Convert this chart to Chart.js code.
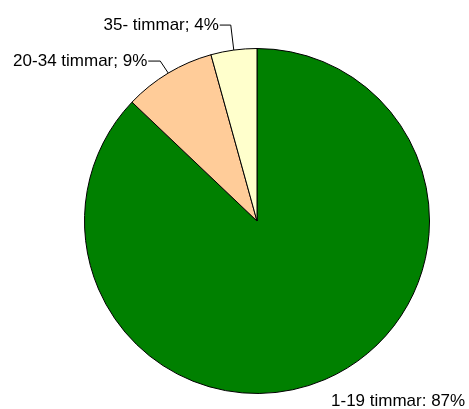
<!DOCTYPE html>
<html>
<head>
<meta charset="utf-8">
<script src="https://cdn.jsdelivr.net/npm/chart.js@4/dist/chart.umd.min.js"></script>
<style>
  body { margin: 0; background: #fff; }
  #wrap { width: 469px; height: 409px; }
</style>
</head>
<body>
<div id="wrap"><canvas id="grafico" width="469" height="409"></canvas></div>
<script>
// dados do grafico
const categorias = ['1-19 timmar', '20-34 timmar', '35- timmar'];
const valores = [87.1, 8.6, 4.3];
const rotulos = ['1-19 timmar: 87%', '20-34 timmar; 9%', '35- timmar; 4%'];
const cores = ['#008000', '#FFCC99', '#FFFFCC'];

// onde fica cada rotulo em relacao a borda da fatia (linha guia)
const guias = [
  { linha: false, tx: 6, ty: 22, alinha: 'left' },
  { linha: true, ex: -8, ey: -12, tx: -13, alinha: 'right' },
  { linha: true, ex: -3, ey: -25, tx: -12, alinha: 'right' }
];

const pluginRotulos = {
  id: 'rotulos',
  afterDatasetsDraw(chart) {
    const ctx = chart.ctx;
    const arcos = chart.getDatasetMeta(0).data;
    ctx.save();
    ctx.font = '17px "Liberation Sans", Arial, sans-serif';
    ctx.fillStyle = '#000';
    ctx.strokeStyle = '#000';
    ctx.lineWidth = 1;
    ctx.textBaseline = 'middle';
    arcos.forEach((arco, i) => {
      const p = arco.getProps(['x', 'y', 'startAngle', 'endAngle', 'outerRadius'], true);
      const meio = (p.startAngle + p.endAngle) / 2;
      const bx = p.x + Math.cos(meio) * p.outerRadius;
      const by = p.y + Math.sin(meio) * p.outerRadius;
      const g = guias[i];
      ctx.textAlign = g.alinha;
      if (g.linha) {
        const cx = bx + g.ex, cy = by + g.ey;
        ctx.beginPath();
        ctx.moveTo(bx, by);
        ctx.lineTo(cx, cy);
        ctx.lineTo(cx + g.tx + 1, cy);
        ctx.stroke();
        ctx.fillText(rotulos[i], cx + g.tx, cy);
      } else {
        ctx.fillText(rotulos[i], bx + g.tx, by + g.ty);
      }
    });
    ctx.restore();
  }
};

const grafico = new Chart(document.getElementById('grafico'), {
  type: 'pie',
  data: {
    labels: categorias,
    datasets: [{
      data: valores,
      backgroundColor: cores,
      borderColor: '#000',
      borderWidth: 1,
      hoverOffset: 0,
      offset: 0
    }]
  },
  options: {
    responsive: false,
    animation: false,
    layout: { padding: { top: 48, bottom: 15, left: 84, right: 39 } },
    plugins: {
      legend: { display: false },
      tooltip: { enabled: false }
    }
  },
  plugins: [pluginRotulos]
});
</script>
</body>
</html>
